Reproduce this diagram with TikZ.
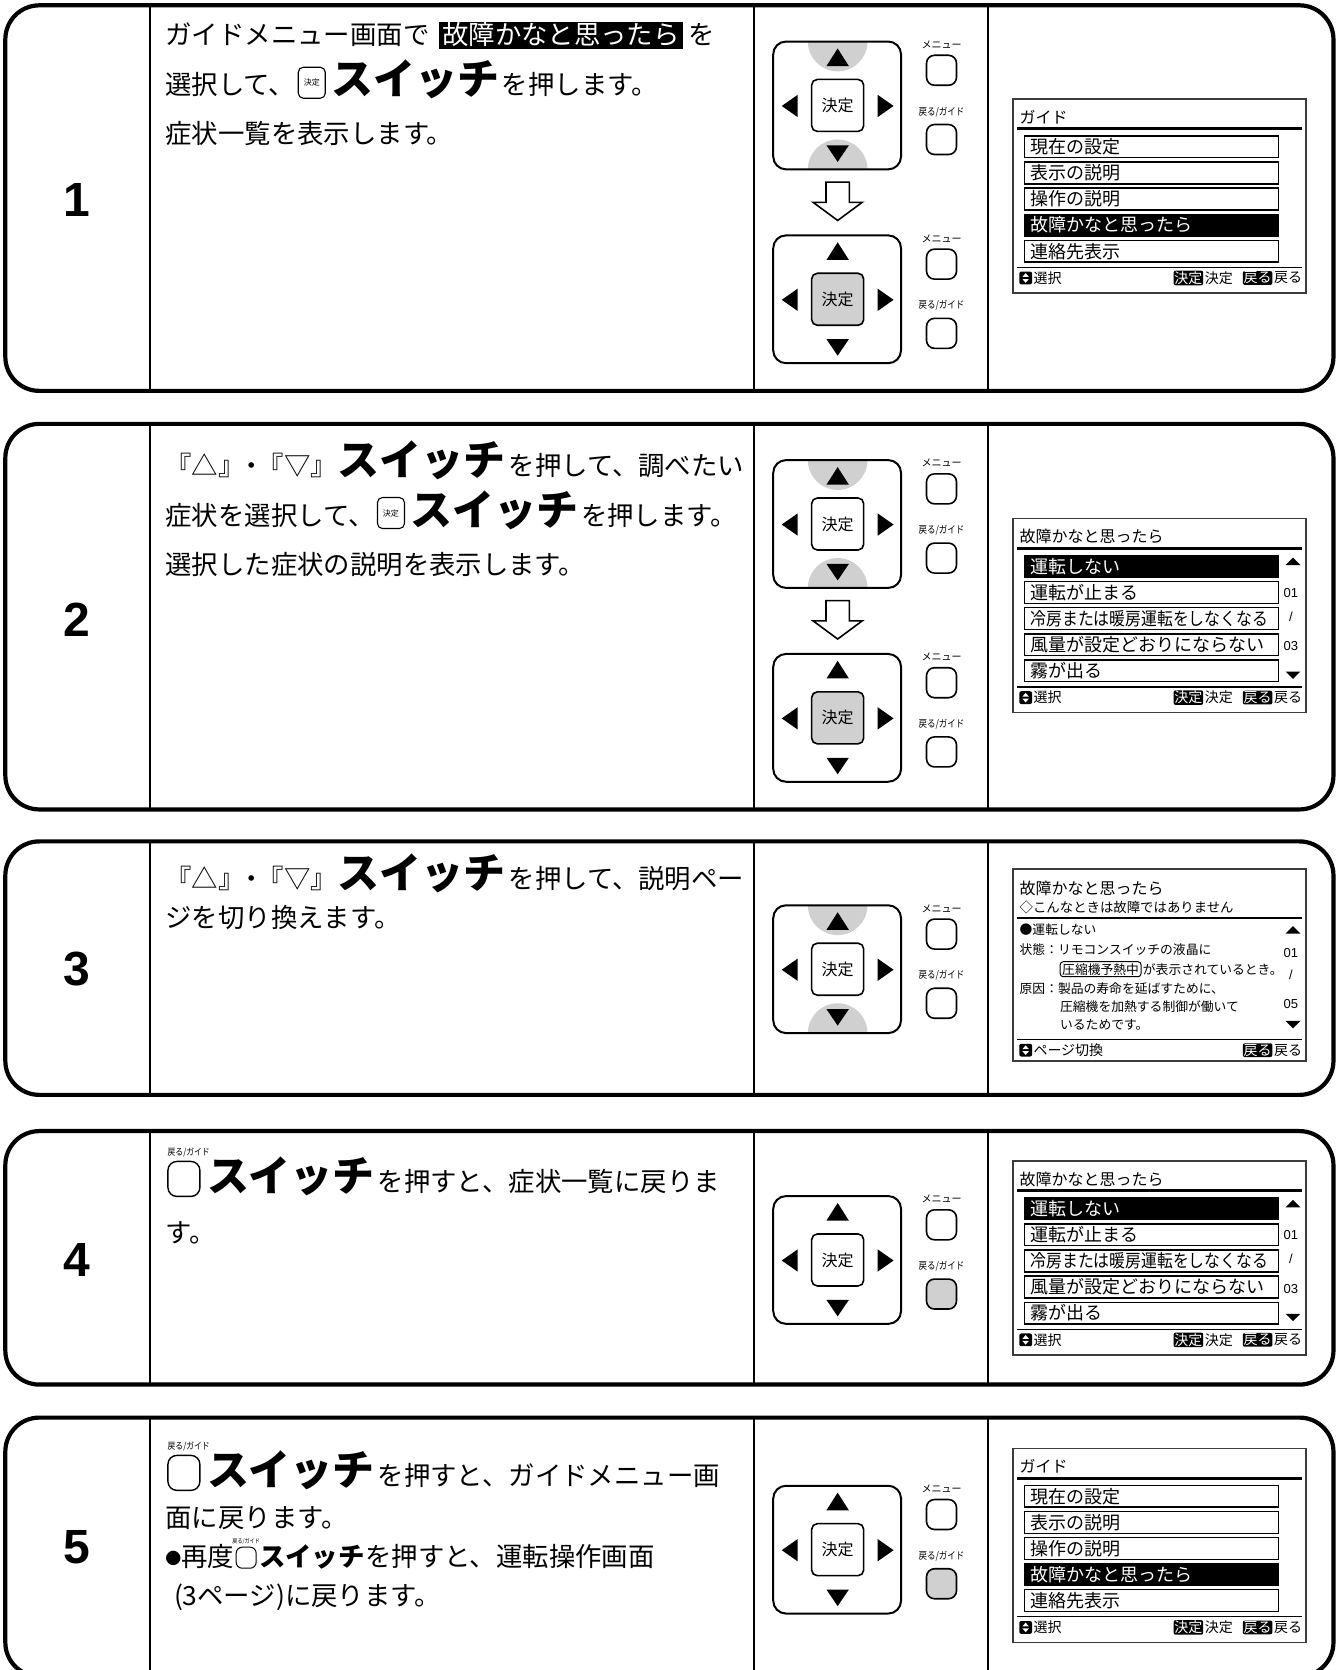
\documentclass[tikz,border=0pt]{standalone}
\usepackage{fontspec}
\usepackage{graphicx}
\setmainfont{Liberation Sans}
\newfontfamily\jp{Noto Sans CJK JP}
\usetikzlibrary{positioning}
\definecolor{keygray}{RGB}{208,208,208}
\definecolor{lcdline}{RGB}{60,60,60}

\tikzset{
  frame/.style={line width=2.1pt, rounded corners=17pt},
  divider/.style={line width=1.1pt},
  num/.style={font=\bfseries\fontsize{24}{24}\selectfont},
  txt/.style={font=\jp\fontsize{13.2}{13.2}\selectfont, anchor=base west},
  bigsw/.style={font=\jp\bfseries\fontsize{21}{21}\selectfont, anchor=base west},
  hlbox/.style={txt, fill=black, text=white, inner xsep=1.5pt, inner ysep=0.4pt, text height=11.2pt, text depth=1.8pt},
  kicon/.style={draw, line width=0.55pt, rounded corners=2.5pt, minimum width=13.5pt, minimum height=15.5pt, anchor=south west, font=\jp\fontsize{4}{4}\selectfont},
  rbtn/.style={draw, line width=0.7pt, rounded corners=4.5pt, minimum width=16pt, minimum height=17.5pt, anchor=south west},
  tinylbl/.style={font=\jp\fontsize{4.6}{4.6}\selectfont},
  keybtn/.style={draw, line width=0.8pt, rounded corners=2.8pt, minimum size=26pt, font=\jp\fontsize{8}{8}\selectfont},
  sidebtn/.style={draw, line width=0.8pt, rounded corners=4pt, minimum size=15pt},
  sidelbl/.style={font=\jp\fontsize{5}{5}\selectfont},
  rowbox/.style={draw, line width=0.7pt, anchor=north west, minimum height=10.9pt, text width=121pt, inner xsep=3.15pt, align=left, font=\jp\fontsize{9}{9}\selectfont},
  lcdtitle/.style={anchor=west, font=\jp\fontsize{8}{8}\selectfont},
  lcdsmall/.style={anchor=west, font=\jp\fontsize{6.4}{6.4}\selectfont},
  footlbl/.style={font=\jp\fontsize{7}{7}\selectfont},
  footkey/.style={footlbl, fill=black, text=white, rounded corners=1pt, inner sep=0.4pt},
  lcdnum/.style={font=\fontsize{6.5}{6.5}\selectfont}
}

% remote: name, top y, arrow glow, key fill, back fill
\newcommand{\remote}[5]{%
  \begin{scope}[shift={(726,#2)}]
    \ifnum#3=1
      \begin{scope}
        \clip[rounded corners=6.4pt] (0,0) rectangle (120,120);
        \fill[keygray] (60.5,0) circle (28);
        \fill[keygray] (60.5,120) circle (28);
      \end{scope}
    \fi
    \draw[line width=1pt, rounded corners=6.4pt] (0,0) rectangle (120,120);
    \node[keybtn, fill=#4] (#1-ok) at (60.5,60) {決定};
    \fill (60.5,6.5) -- (71,23) -- (50,23) -- cycle;
    \fill (50,97.5) -- (71,97.5) -- (60.5,113) -- cycle;
    \fill (8,60.5) -- (23,50) -- (23,71) -- cycle;
    \fill (113,60.5) -- (98,50) -- (98,71) -- cycle;
    \node[sidelbl] (#1-mlbl) at (158,3) {メニュー};
    \node[sidebtn] (#1-menu) at (158,27) {};
    \node[sidelbl] (#1-blbl) at (158,66) {\scalebox{0.85}[1]{戻る/ガイド}};
    \node[sidebtn, fill=#5] (#1-back) at (158,92) {};
  \end{scope}}

% hollow arrow under the upper keypad
\newcommand{\nextarrow}[1]{%
  \draw[line width=0.8pt, fill=white, line join=miter] (775.5,#1+132) -- (797.5,#1+132) -- (797.5,#1+151)
    -- (809.5,#1+151) -- (786.5,#1+168) -- (763.5,#1+151) -- (775.5,#1+151) -- cycle;}

% screen parts
\newcommand{\lcdbase}[2]{%
  \draw[lcdline, line width=0.8pt] (0,0) rectangle (275,182);
  \node[lcdtitle] (#1-title) at (6,17) {#2};
  \draw[line width=1.4pt] (4,28) -- (271,28);}
\newcommand{\lcdrow}[3]{\node[rowbox] (#1) at (10,{34+24.5*#2}) {#3};}
\newcommand{\lcdsel}[3]{\node[rowbox, fill=black, text=white] (#1) at (10,{34+24.5*#2}) {#3};}
\newcommand{\lcdfoot}[4]{%
  \draw[line width=0.6pt] (4,#2) -- (271,#2);
  \node[fill=black, rounded corners=1pt, minimum size=6.4pt] (#1-sel) at (12,#2+10) {};
  \fill[white] (12,#2+5.5) -- (15,#2+9) -- (9,#2+9) -- cycle;
  \fill[white] (9,#2+11) -- (15,#2+11) -- (12,#2+14.5) -- cycle;
  \node[footlbl, anchor=west] (#1-seltxt) at (19,#2+10) {#3};
  \node[footlbl, anchor=east] (#1-bk) at (272,#2+10) {戻る};
  \node[footkey, anchor=east] (#1-bkkey) at ([xshift=-0.5pt]#1-bk.west) {戻る};
  \ifnum#4=1
    \node[footlbl, anchor=east] (#1-okt) at ([xshift=-4.5pt]#1-bkkey.west) {決定};
    \node[footkey, anchor=east] (#1-okkey) at ([xshift=-0.5pt]#1-okt.west) {決定};
  \fi}
\newcommand{\lcdscroll}[7]{%
  \fill (263,#2-3.5) -- (270,#2+3.5) -- (256,#2+3.5) -- cycle;
  \node[lcdnum] (#1-cur) at (261,#3) {01};
  \node[lcdnum] (#1-sl) at (261,#4) {/};
  \node[lcdnum] (#1-tot) at (261,#5) {#7};
  \fill (256,#6-3.5) -- (270,#6-3.5) -- (263,#6+3.5) -- cycle;}

\newcommand{\guidescreen}[2]{%
  \begin{scope}[shift={(951,#2)}]
    \lcdbase{#1}{ガイド}
    \lcdrow{#1-a}{0}{現在の設定}
    \lcdrow{#1-b}{1}{表示の説明}
    \lcdrow{#1-c}{2}{操作の説明}
    \lcdsel{#1-d}{3}{故障かなと思ったら}
    \lcdrow{#1-e}{4}{連絡先表示}
    \lcdfoot{#1}{158}{選択}{1}
  \end{scope}}
\newcommand{\faultscreen}[2]{%
  \begin{scope}[shift={(951,#2)}]
    \lcdbase{#1}{故障かなと思ったら}
    \lcdsel{#1-a}{0}{運転しない}
    \lcdrow{#1-b}{1}{運転が止まる}
    \lcdrow{#1-c}{2}{\scalebox{0.88}[1]{冷房または暖房運転をしなくなる}}
    \lcdrow{#1-d}{3}{風量が設定どおりにならない}
    \lcdrow{#1-e}{4}{霧が出る}
    \lcdscroll{#1}{40}{70}{92}{120}{147}{03}
    \lcdfoot{#1}{158}{選択}{1}
  \end{scope}}

\begin{document}
\begin{tikzpicture}[x=0.53265pt,y=-0.53265pt,every node/.style={inner sep=0pt}]
  \useasboundingbox (0,0) rectangle (1256,1568);
  \clip (0,0) rectangle (1256,1568);
  % Frames
  \foreach \ya/\yb in {5/367,398/760,790/1028,1062/1300,1331/1574}{
    \draw[frame] (5,\ya) rectangle (1252,\yb);
    \foreach \x in {141,708,928} \draw[divider] (\x,\ya) -- (\x,\yb);
  }
  % Step numbers
  \node[num] (n1) at (72,188) {1};
  \node[num] (n2) at (72,582) {2};
  \node[num] (n3) at (72,910) {3};
  \node[num] (n4) at (72,1183) {4};
  \node[num] (n5) at (72,1453) {5};

  % Step 1
  \node[txt] (t1a) at (155,42) {ガイドメニュー画面で};
  \node[hlbox] (t1hl) at ([xshift=4.5pt]t1a.base east) {故障かなと思ったら};
  \node[txt] (t1b) at ([xshift=2.5pt]t1hl.base east) {を};
  \node[txt] (t1c) at (155,89) {選択して、};
  \node[kicon] (t1k) at ([xshift=1pt,yshift=-2pt]t1c.base east) {決定};
  \node[bigsw] (t1sw) at ([xshift=2.5pt,yshift=2pt]t1k.south east) {スイッチ};
  \node[txt] (t1d) at ([xshift=1pt]t1sw.base east) {を押します。};
  \node[txt] (t1e) at (155,135) {症状一覧を表示します。};
  \remote{r1a}{39}{1}{white}{white}
  \nextarrow{39}
  \remote{r1b}{221}{0}{keygray}{white}
  \guidescreen{s1}{93}

  % Step 2
  \node[txt] (t2a) at (155,446) {『△』\hspace{-0.25em}・\hspace{-0.25em}『▽』};
  \node[bigsw] (t2sw) at (t2a.base east) {スイッチ};
  \node[txt] (t2b) at ([xshift=1pt]t2sw.base east) {を押して、調べたい};
  \node[txt] (t2c) at (155,493) {症状を選択して、};
  \node[kicon] (t2k) at ([xshift=1pt,yshift=-2pt]t2c.base east) {決定};
  \node[bigsw] (t2sw2) at ([xshift=2.5pt,yshift=2pt]t2k.south east) {スイッチ};
  \node[txt] (t2d) at ([xshift=1pt]t2sw2.base east) {を押します。};
  \node[txt] (t2e) at (155,539) {選択した症状の説明を表示します。};
  \remote{r2a}{432}{1}{white}{white}
  \nextarrow{432}
  \remote{r2b}{614}{0}{keygray}{white}
  \faultscreen{s2}{487}

  % Step 3
  \node[txt] (t3a) at (155,834) {『△』\hspace{-0.25em}・\hspace{-0.25em}『▽』};
  \node[bigsw] (t3sw) at (t3a.base east) {スイッチ};
  \node[txt] (t3b) at ([xshift=1pt]t3sw.base east) {を押して、説明ペー};
  \node[txt] (t3c) at (155,871) {ジを切り換えます。};
  \remote{r3}{850}{1}{white}{white}
  \begin{scope}[shift={(951,816)}]
    \draw[lcdline, line width=0.8pt] (0,0) rectangle (275,180);
    \node[lcdtitle] (s3-title) at (6,18) {故障かなと思ったら};
    \node[lcdsmall, font=\jp\fontsize{6.7}{6.7}\selectfont] (s3-sub) at (6,36) {◇こんなときは故障ではありません};
    \draw[line width=1.4pt] (4,46) -- (271,46);
    \node[lcdsmall] (s3-r1) at (6,57) {●運転しない};
    \node[lcdsmall] (s3-r2) at (6,76) {状態：リモコンスイッチの液晶に};
    \node[lcdsmall, draw, line width=0.5pt, rounded corners=1.5pt, inner xsep=1pt, inner ysep=0.8pt] (s3-box) at (44,94) {圧縮機予熱中};
    \node[lcdsmall] (s3-r3) at ([xshift=0.5pt]s3-box.east) {が表示されているとき。};
    \node[lcdsmall] (s3-r4) at (6,112) {原因：製品の寿命を延ばすために、};
    \node[lcdsmall] (s3-r5) at (44,129) {圧縮機を加熱する制御が働いて};
    \node[lcdsmall] (s3-r6) at (44,146) {いるためです。};
    \lcdscroll{s3}{57}{79}{99}{127}{146}{05}
    \lcdfoot{s3}{160}{ページ切換}{0}
  \end{scope}

  % Step 4
  \node[rbtn] (t4k) at (157,1124) {};
  \node[tinylbl, anchor=south west] (t4l) at ([yshift=1.5pt]t4k.north west) {\scalebox{0.85}[1]{戻る/ガイド}};
  \node[bigsw] (t4sw) at ([xshift=3pt,yshift=2.7pt]t4k.south east) {スイッチ};
  \node[txt] (t4a) at ([xshift=1pt]t4sw.base east) {を押すと、症状一覧に戻りま};
  \node[txt] (t4b) at (155,1167) {す。};
  \remote{r4}{1123}{0}{white}{keygray}
  \faultscreen{s4}{1090}

  % Step 5
  \node[rbtn] (t5k) at (157,1400) {};
  \node[tinylbl, anchor=south west] (t5l) at ([yshift=1.5pt]t5k.north west) {\scalebox{0.85}[1]{戻る/ガイド}};
  \node[bigsw] (t5sw) at ([xshift=3pt,yshift=2.7pt]t5k.south east) {スイッチ};
  \node[txt] (t5a) at ([xshift=1pt]t5sw.base east) {を押すと、ガイドメニュー画};
  \node[txt] (t5b) at (155,1434) {面に戻ります。};
  \node[txt] (t5c) at (155,1471) {\raisebox{1.3pt}{\fontsize{8}{8}\selectfont ●}再度};
  \node[rbtn, minimum width=10pt, minimum height=10.5pt, rounded corners=3pt, line width=0.5pt] (t5k2) at ([xshift=0.5pt,yshift=-1pt]t5c.base east) {};
  \node[tinylbl, font=\jp\fontsize{3}{3}\selectfont, anchor=south] (t5l2) at ([yshift=0.8pt]t5k2.north) {\scalebox{0.85}[1]{戻る/ガイド}};
  \node[txt, font=\jp\bfseries\fontsize{13.2}{13.2}\selectfont] (t5sw2) at ([xshift=1pt,yshift=1pt]t5k2.south east) {スイッチ};
  \node[txt] (t5d) at (t5sw2.base east) {を押すと、運転操作画面};
  \node[txt] (t5e) at (163,1507) {(3ページ)に戻ります。};
  \remote{r5}{1395}{0}{white}{keygray}
  \guidescreen{s5}{1360}
\end{tikzpicture}
\end{document}
